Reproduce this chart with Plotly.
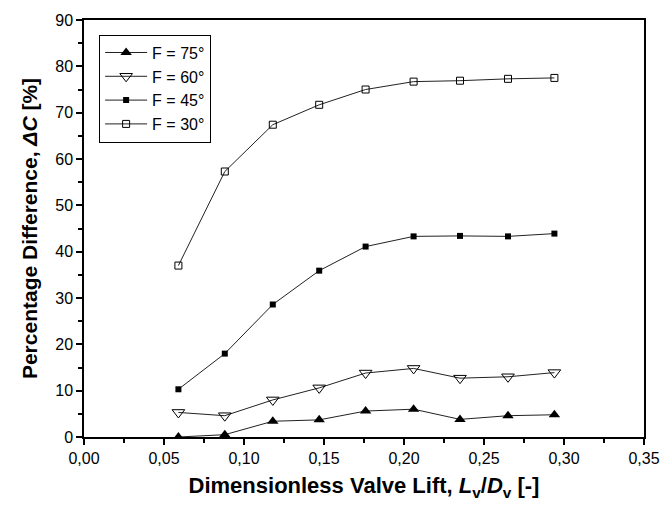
import plotly.graph_objects as go

x_lift = [0.059, 0.088, 0.118, 0.147, 0.176, 0.206, 0.235, 0.265, 0.294]
f75 = [0.0, 0.5, 3.4, 3.7, 5.6, 6.0, 3.8, 4.6, 4.8]
f60 = [5.3, 4.6, 8.0, 10.6, 13.8, 14.8, 12.7, 13.0, 13.9]
f45 = [10.3, 18.0, 28.6, 35.9, 41.1, 43.3, 43.4, 43.3, 43.9]
f30 = [37.0, 57.3, 67.4, 71.7, 75.0, 76.7, 76.9, 77.3, 77.5]
names = ["F = 75°", "F = 60°", "F = 45°", "F = 30°"]

FONT = "Arial, Liberation Sans, sans-serif"
line = dict(color="#222222", width=1)

fig = go.Figure()
fig.add_trace(go.Scatter(x=x_lift, y=f75, name=names[0], mode="lines+markers", line=line,
                         marker=dict(symbol="triangle-up", size=10, color="black")))
fig.add_trace(go.Scatter(x=x_lift, y=f60, name=names[1], mode="lines+markers", line=line,
                         marker=dict(symbol="triangle-down-open", size=11, color="black", line=dict(width=1))))
fig.add_trace(go.Scatter(x=x_lift, y=f45, name=names[2], mode="lines+markers", line=line,
                         marker=dict(symbol="square", size=6, color="black")))
fig.add_trace(go.Scatter(x=x_lift, y=f30, name=names[3], mode="lines+markers", line=line,
                         marker=dict(symbol="square-open", size=7, color="black", line=dict(width=1))))

axis_common = dict(showgrid=False, zeroline=False, linecolor="black", linewidth=1.5,
                   tickcolor="black", tickwidth=1.5, ticklen=6,
                   tickfont=dict(family=FONT, size=16, color="black"))

fig.update_layout(
    width=672, height=510,
    margin=dict(l=84, r=16, t=14, b=73),
    paper_bgcolor="white", plot_bgcolor="white",
    separators=",.",
    font=dict(family=FONT, color="black"),
    showlegend=True,
    legend=dict(x=0.027, y=0.965, xanchor="left", yanchor="top",
                bordercolor="black", borderwidth=1, bgcolor="white",
                font=dict(family=FONT, size=16, color="black"),
                tracegroupgap=0, itemwidth=42),
    xaxis=dict(range=[0, 0.35], dtick=0.05, tick0=0, tickformat=".2f",
               ticks="outside", mirror=True, showline=True, ticklabeloverflow="allow",
               minor=dict(ticks="outside", ticklen=4, tickwidth=1.5, tickcolor="black", dtick=0.025),
               title=dict(text="<b>Dimensionless Valve Lift, <i>L</i><sub>v</sub>/<i>D</i><sub>v</sub> [-]</b>",
                          font=dict(family=FONT, size=22, color="black"), standoff=12),
               **axis_common),
    yaxis=dict(range=[0, 90], dtick=10, tick0=0,
               ticks="outside", mirror=True, showline=True,
               minor=dict(ticks="outside", ticklen=4, tickwidth=1.5, tickcolor="black", dtick=5),
               title=dict(text="<b>Percentage Difference, <i>ΔC</i> [%]</b>",
                          font=dict(family=FONT, size=21, color="black"), standoff=12),
               **axis_common),
    xaxis2=dict(overlaying="x", side="top", range=[0, 0.35], dtick=0.05, tick0=0,
                ticks="inside", showticklabels=False, showline=False, showgrid=False, zeroline=False,
                tickcolor="black", tickwidth=1.5, ticklen=6,
                minor=dict(ticks="inside", ticklen=4, tickwidth=1.5, tickcolor="black", dtick=0.025)),
    yaxis2=dict(overlaying="y", side="right", range=[0, 90], dtick=10, tick0=0,
                ticks="inside", showticklabels=False, showline=False, showgrid=False, zeroline=False,
                tickcolor="black", tickwidth=1.5, ticklen=6,
                minor=dict(ticks="inside", ticklen=4, tickwidth=1.5, tickcolor="black", dtick=5)),
)

fig.write_html("out.html")
